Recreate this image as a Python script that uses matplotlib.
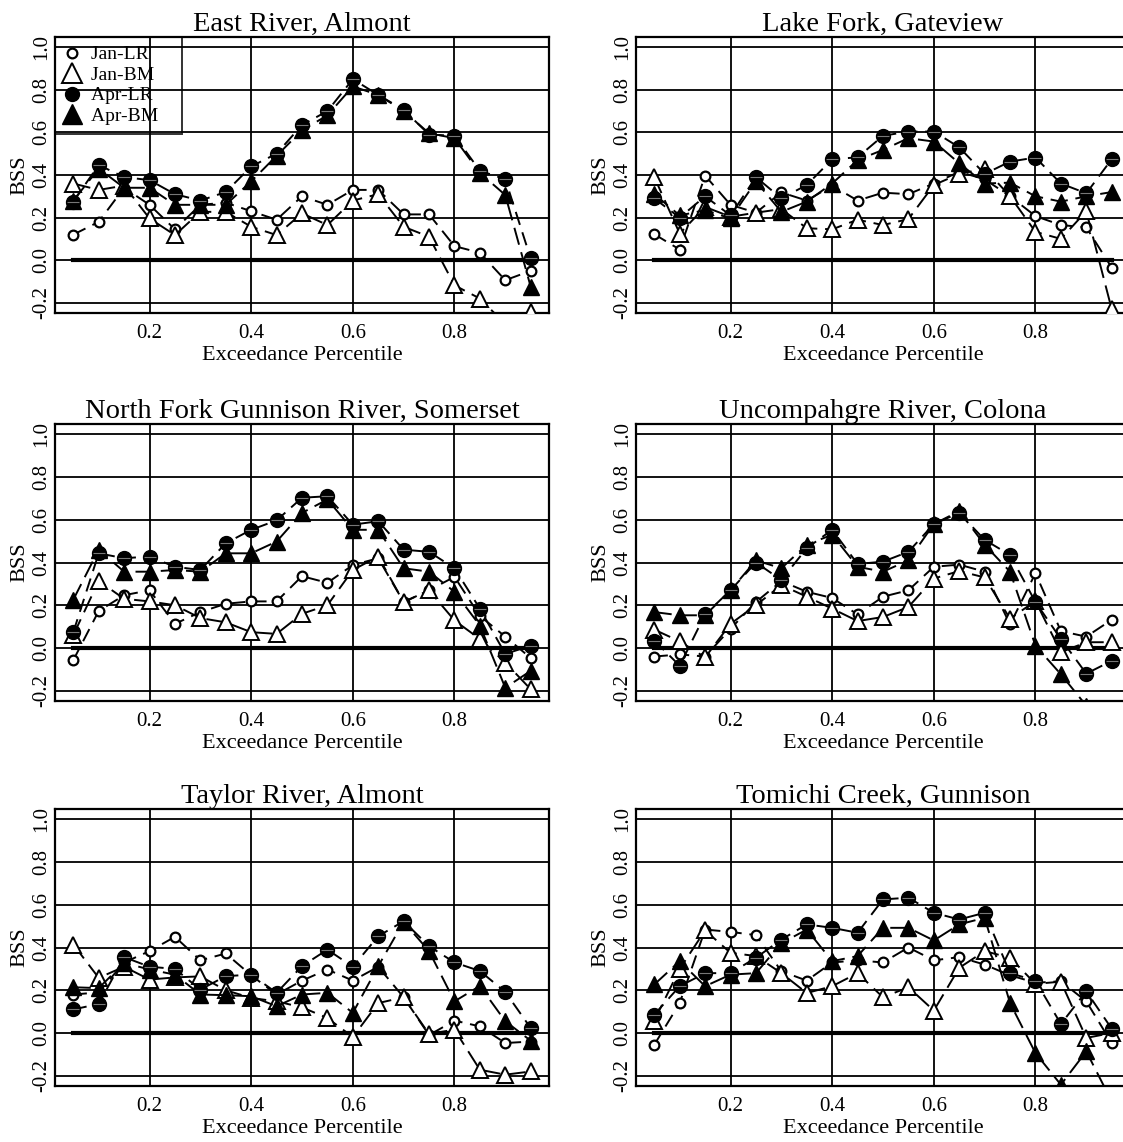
import matplotlib
matplotlib.use("Agg")
import matplotlib.pyplot as plt
from matplotlib.lines import Line2D

plt.rcParams["font.family"] = ["Liberation Serif", "DejaVu Serif"]

# exceedance percentiles on the x axis
pct = [0.05, 0.10, 0.15, 0.20, 0.25, 0.30, 0.35, 0.40, 0.45, 0.50,
       0.55, 0.60, 0.65, 0.70, 0.75, 0.80, 0.85, 0.90, 0.95]

# East River, Almont
east_jan_lr = [0.12, 0.18, 0.34, 0.26, 0.145, 0.26, 0.27, 0.23, 0.19, 0.30,
               0.26, 0.33, 0.33, 0.215, 0.215, 0.066, 0.035, -0.094, -0.05]
east_jan_bm = [0.36, 0.33, 0.35, 0.196, 0.118, 0.227, 0.227, 0.157, 0.118, 0.22,
               0.165, 0.28, 0.31, 0.157, 0.11, -0.118, -0.18, -0.30, -0.243]
east_apr_lr = [0.275, 0.447, 0.39, 0.376, 0.31, 0.28, 0.32, 0.44, 0.50, 0.635,
               0.70, 0.85, 0.776, 0.706, 0.59, 0.584, 0.42, 0.38, 0.008]
east_apr_bm = [0.28, 0.43, 0.34, 0.34, 0.26, 0.26, 0.26, 0.37, 0.49, 0.61,
               0.68, 0.816, 0.776, 0.70, 0.596, 0.573, 0.41, 0.306, -0.125]

# Lake Fork, Gateview
lake_jan_lr = [0.122, 0.05, 0.397, 0.26, 0.223, 0.318, 0.28, 0.35, 0.28, 0.317,
               0.31, 0.36, 0.415, 0.38, 0.30, 0.207, 0.165, 0.154, -0.035]
lake_jan_bm = [0.39, 0.125, 0.25, 0.204, 0.223, 0.24, 0.15, 0.145, 0.19, 0.165,
               0.193, 0.353, 0.405, 0.43, 0.30, 0.133, 0.10, 0.23, -0.23]
lake_apr_lr = [0.29, 0.20, 0.30, 0.21, 0.39, 0.29, 0.353, 0.474, 0.483, 0.584,
               0.604, 0.604, 0.53, 0.405, 0.463, 0.482, 0.36, 0.314, 0.474]
lake_apr_bm = [0.31, 0.21, 0.235, 0.196, 0.37, 0.227, 0.275, 0.36, 0.47, 0.518,
               0.573, 0.557, 0.455, 0.36, 0.364, 0.30, 0.275, 0.30, 0.32]

# North Fork Gunnison River, Somerset
nfork_jan_lr = [-0.057, 0.173, 0.247, 0.27, 0.113, 0.168, 0.207, 0.218, 0.218, 0.336,
                0.305, 0.388, 0.42, 0.215, 0.27, 0.333, 0.15, 0.053, -0.047]
nfork_jan_bm = [0.06, 0.314, 0.23, 0.218, 0.20, 0.14, 0.12, 0.074, 0.066, 0.16,
                0.20, 0.365, 0.428, 0.215, 0.27, 0.129, 0.042, -0.068, -0.193]
nfork_apr_lr = [0.074, 0.443, 0.42, 0.428, 0.38, 0.365, 0.49, 0.553, 0.597, 0.703,
                0.71, 0.577, 0.593, 0.46, 0.45, 0.373, 0.184, -0.028, 0.011]
nfork_apr_bm = [0.226, 0.46, 0.357, 0.357, 0.365, 0.357, 0.443, 0.443, 0.498, 0.632,
                0.695, 0.553, 0.553, 0.373, 0.357, 0.263, 0.105, -0.186, -0.107]

# Uncompahgre River, Colona
unc_jan_lr = [-0.04, -0.03, -0.04, 0.09, 0.215, 0.313, 0.263, 0.234, 0.157, 0.24,
              0.27, 0.38, 0.39, 0.357, 0.11, 0.35, 0.079, 0.053, 0.132]
unc_jan_bm = [0.086, 0.031, -0.044, 0.113, 0.20, 0.294, 0.24, 0.184, 0.126, 0.145,
              0.192, 0.325, 0.36, 0.33, 0.137, 0.22, -0.02, 0.027, 0.027]
unc_apr_lr = [0.035, -0.083, 0.157, 0.27, 0.40, 0.318, 0.467, 0.553, 0.393, 0.404,
              0.45, 0.58, 0.632, 0.506, 0.435, 0.215, 0.042, -0.12, -0.06]
unc_apr_bm = [0.168, 0.153, 0.153, 0.27, 0.41, 0.373, 0.483, 0.53, 0.38, 0.357,
              0.41, 0.58, 0.64, 0.483, 0.357, 0.011, -0.123, -0.27, -0.40]

# Taylor River, Almont
taylor_jan_lr = [0.18, 0.19, 0.33, 0.383, 0.45, 0.34, 0.372, 0.27, 0.18, 0.245,
                 0.297, 0.245, 0.31, 0.167, -0.01, 0.058, 0.031, -0.047, -0.04]
taylor_jan_bm = [0.414, 0.258, 0.31, 0.25, 0.26, 0.265, 0.20, 0.164, 0.148, 0.12,
                 0.07, -0.019, 0.14, 0.167, -0.005, 0.016, -0.172, -0.195, -0.18]
taylor_apr_lr = [0.11, 0.136, 0.355, 0.31, 0.30, 0.203, 0.266, 0.273, 0.188, 0.313,
                 0.39, 0.31, 0.453, 0.523, 0.406, 0.33, 0.29, 0.192, 0.023]
taylor_apr_bm = [0.214, 0.21, 0.328, 0.297, 0.273, 0.18, 0.177, 0.172, 0.125, 0.18,
                 0.188, 0.094, 0.313, 0.52, 0.383, 0.148, 0.22, 0.055, -0.036]

# Tomichi Creek, Gunnison
tom_jan_lr = [-0.055, 0.14, 0.484, 0.473, 0.458, 0.289, 0.245, 0.33, 0.34, 0.33,
              0.40, 0.34, 0.355, 0.32, 0.27, 0.235, 0.242, 0.148, -0.047]
tom_jan_bm = [0.058, 0.30, 0.48, 0.375, 0.36, 0.28, 0.187, 0.219, 0.28, 0.167,
              0.214, 0.105, 0.305, 0.383, 0.352, 0.23, 0.24, -0.023, 0.0]
tom_apr_lr = [0.086, 0.219, 0.28, 0.28, 0.352, 0.437, 0.508, 0.492, 0.469, 0.625,
              0.633, 0.5625, 0.531, 0.5625, 0.28, 0.245, 0.042, 0.195, 0.02]
tom_apr_bm = [0.227, 0.336, 0.219, 0.273, 0.28, 0.42, 0.484, 0.336, 0.36, 0.492,
              0.492, 0.433, 0.508, 0.539, 0.14, -0.094, -0.242, -0.086, -0.32]

titles = ["East River, Almont", "Lake Fork, Gateview",
          "North Fork Gunnison River, Somerset", "Uncompahgre River, Colona",
          "Taylor River, Almont", "Tomichi Creek, Gunnison"]

stations = [
    (east_jan_lr, east_jan_bm, east_apr_lr, east_apr_bm),
    (lake_jan_lr, lake_jan_bm, lake_apr_lr, lake_apr_bm),
    (nfork_jan_lr, nfork_jan_bm, nfork_apr_lr, nfork_apr_bm),
    (unc_jan_lr, unc_jan_bm, unc_apr_lr, unc_apr_bm),
    (taylor_jan_lr, taylor_jan_bm, taylor_apr_lr, taylor_apr_bm),
    (tom_jan_lr, tom_jan_bm, tom_apr_lr, tom_apr_bm),
]

W, H = 1123, 1142
fig = plt.figure(figsize=(W / 100, H / 100), dpi=100)

# axes boxes in pixels: left, top, bottom (width same for all)
col_left = [55, 636]
row_top = [37, 424, 809]
row_bot = [313, 701, 1086]
ax_w = 494

for i, (title, series) in enumerate(zip(titles, stations)):
    r, c = divmod(i, 2)
    left = col_left[c] / W
    bottom = 1 - row_bot[r] / H
    height = (row_bot[r] - row_top[r]) / H
    ax = fig.add_axes([left, bottom, ax_w / W, height])

    ax.set_xlim(0.014, 0.986)
    ax.set_ylim(-0.248, 1.048)

    # grid lines like the original
    for yv in [-0.2, 0.0, 0.2, 0.4, 0.6, 0.8, 1.0]:
        ax.axhline(yv, color="black", lw=1.3, zorder=1)
    for xv in [0.2, 0.4, 0.6, 0.8]:
        ax.axvline(xv, color="black", lw=1.3, zorder=1)
    ax.plot([0.05, 0.95], [0, 0], color="black", lw=3, zorder=1)

    jlr, jbm, alr, abm = series
    ax.plot(pct, jlr, color="black", ls=(0, (7, 4)), lw=1.4, marker="o", ms=7,
            mfc="white", mec="black", mew=1.6, zorder=3)
    ax.plot(pct, jbm, color="black", ls=(0, (9, 4)), lw=1.4, marker="^", ms=11,
            mfc="white", mec="black", mew=1.4, zorder=3)
    ax.plot(pct, alr, color="black", ls=(0, (7, 4)), lw=1.4, marker="o", ms=10,
            mfc="black", mec="black", zorder=4)
    ax.plot(pct, abm, color="black", ls=(0, (9, 4)), lw=1.4, marker="^", ms=11,
            mfc="black", mec="black", zorder=4)
    ax.plot(pct, alr, ls="none", marker="_", ms=8, mec="#777777", mew=0.8, zorder=5)

    for sp in ax.spines.values():
        sp.set_linewidth(1.6)

    ax.set_xticks([0.2, 0.4, 0.6, 0.8])
    ax.set_xticklabels(["0.2", "0.4", "0.6", "0.8"])
    ax.set_yticks([-0.2, 0.0, 0.2, 0.4, 0.6, 0.8, 1.0])
    ax.set_yticklabels(["-0.2", "0.0", "0.2", "0.4", "0.6", "0.8", "1.0"],
                       rotation=90, va="center")
    ax.tick_params(length=0, labelsize=15)
    ax.tick_params(axis="x", pad=8)
    ax.tick_params(axis="y", pad=3)

    ax.set_title(title, fontsize=20.5, pad=3)
    ax.set_xlabel("Exceedance Percentile", fontsize=16, labelpad=2)
    ax.set_ylabel("BSS", fontsize=16, labelpad=2)

    if i == 0:
        handles = [
            Line2D([], [], ls="none", marker="o", ms=7, mfc="white", mec="black", mew=1.6),
            Line2D([], [], ls="none", marker="^", ms=14, mfc="white", mec="black", mew=1.4),
            Line2D([], [], ls="none", marker="o", ms=10, mfc="black", mec="black"),
            Line2D([], [], ls="none", marker="^", ms=14, mfc="black", mec="black"),
        ]
        leg = ax.legend(handles, ["Jan-LR   ", "Jan-BM   ", "Apr-LR   ", "Apr-BM   "],
                        loc="upper left", bbox_to_anchor=(0, 1), borderaxespad=0,
                        fontsize=14, fancybox=False,
                        edgecolor="black", handletextpad=0.6, labelspacing=0.15,
                        borderpad=0.45, handlelength=0.8)
        leg.get_frame().set_linewidth(1.4)
        leg.get_frame().set_facecolor("none")
        leg.set_zorder(10)

fig.savefig("out.png", dpi=100)
